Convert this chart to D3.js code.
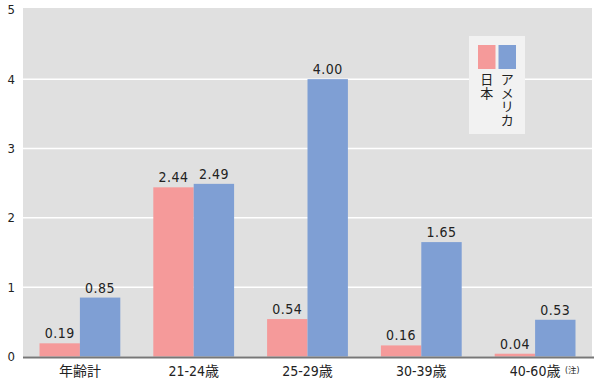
<!DOCTYPE html>
<html><head><meta charset="utf-8">
<script src="https://cdn.jsdelivr.net/npm/d3@7"></script>
<style>body{margin:0;background:#fff}svg{display:block}text{font-family:"DejaVu Sans Condensed","Noto Sans CJK JP",sans-serif;fill:#222}</style>
</head><body><svg id="c" width="600" height="387"></svg>
<script>
const categories = ["年齢計", "21-24歳", "25-29歳", "30-39歳", "40-60歳"];
const japan = [0.19, 2.44, 0.54, 0.16, 0.04];
const america = [0.85, 2.49, 4.00, 1.65, 0.53];
const seriesNames = ["日本", "アメリカ"];
const colors = ["#f59a9a", "#7f9fd4"];
const yTicks = [0, 1, 2, 3, 4, 5];

const svg = d3.select("#c");
const L = 23, R = 592, T = 8, B = 356.5;
const x = d3.scaleBand().domain(categories).range([L, R]).paddingInner(0.29).paddingOuter(0.145);
const y = d3.scaleLinear().domain([0, 5]).range([B, 9.8]);

svg.append("rect").attr("x", L).attr("y", T).attr("width", R - L).attr("height", B - T).attr("fill", "#e0e0e0");
svg.selectAll(".grid").data(yTicks.filter(d => d > 0 && d < 5)).enter().append("line")
  .attr("x1", L).attr("x2", R).attr("y1", d => y(d)).attr("y2", d => y(d))
  .attr("stroke", "#fff").attr("stroke-width", 1.5);

const yAxis = svg.append("g").attr("transform", `translate(${L},0)`)
  .call(d3.axisLeft(y).tickValues(yTicks).tickSize(0).tickPadding(8).tickFormat(d3.format("d")));
yAxis.select(".domain").remove();
yAxis.selectAll("text").attr("font-size", 13).attr("font-family", "DejaVu Sans Condensed").attr("fill", "#222");

const sub = d3.scaleBand().domain([0, 1]).range([0, x.bandwidth()]);
const data = [japan, america];
data.forEach((vals, si) => {
  svg.selectAll(".b" + si).data(vals).enter().append("rect")
    .attr("x", (d, i) => x(categories[i]) + sub(si))
    .attr("width", sub.bandwidth())
    .attr("y", d => y(d)).attr("height", d => B - y(d))
    .attr("fill", colors[si]);
  svg.selectAll(".l" + si).data(vals).enter().append("text")
    .attr("x", (d, i) => x(categories[i]) + sub(si) + sub.bandwidth() / 2)
    .attr("y", d => y(d) - 5)
    .attr("text-anchor", "middle").attr("font-size", 14).attr("letter-spacing", 0.5)
    .text(d => d3.format(".2f")(d));
});

svg.append("line").attr("x1", L).attr("x2", R + 2).attr("y1", B + 1).attr("y2", B + 1)
  .attr("stroke", "#777").attr("stroke-width", 2);

const xAxis = svg.append("g").attr("transform", `translate(0,${B})`)
  .call(d3.axisBottom(x).tickSize(0).tickPadding(10));
xAxis.select(".domain").remove();
xAxis.selectAll("text").attr("font-size", 14).attr("font-family", "DejaVu Sans Condensed, Noto Sans CJK JP").attr("fill", "#222");
const lastX = x(categories[4]) + x.bandwidth() / 2;
svg.append("text").attr("x", lastX + 30).attr("y", 373).attr("font-size", 8.5).attr("font-family", "Noto Sans CJK JP").text("(注)");

// legend
const lg = svg.append("g");
lg.append("rect").attr("x", 469).attr("y", 36).attr("width", 56).attr("height", 98).attr("fill", "#f2f2f2");
seriesNames.forEach((n, i) => {
  const sx = 478 + i * 20.5;
  lg.append("rect").attr("x", sx).attr("y", 45).attr("width", 17.5).attr("height", 24).attr("fill", colors[i]);
  Array.from(n).forEach((ch, j) => {
    lg.append("text").attr("x", sx + 8.75).attr("y", 84 + j * 13.5).attr("text-anchor", "middle")
      .attr("font-size", 13).attr("font-family", "Noto Sans CJK JP").text(ch);
  });
});
</script></body></html>
